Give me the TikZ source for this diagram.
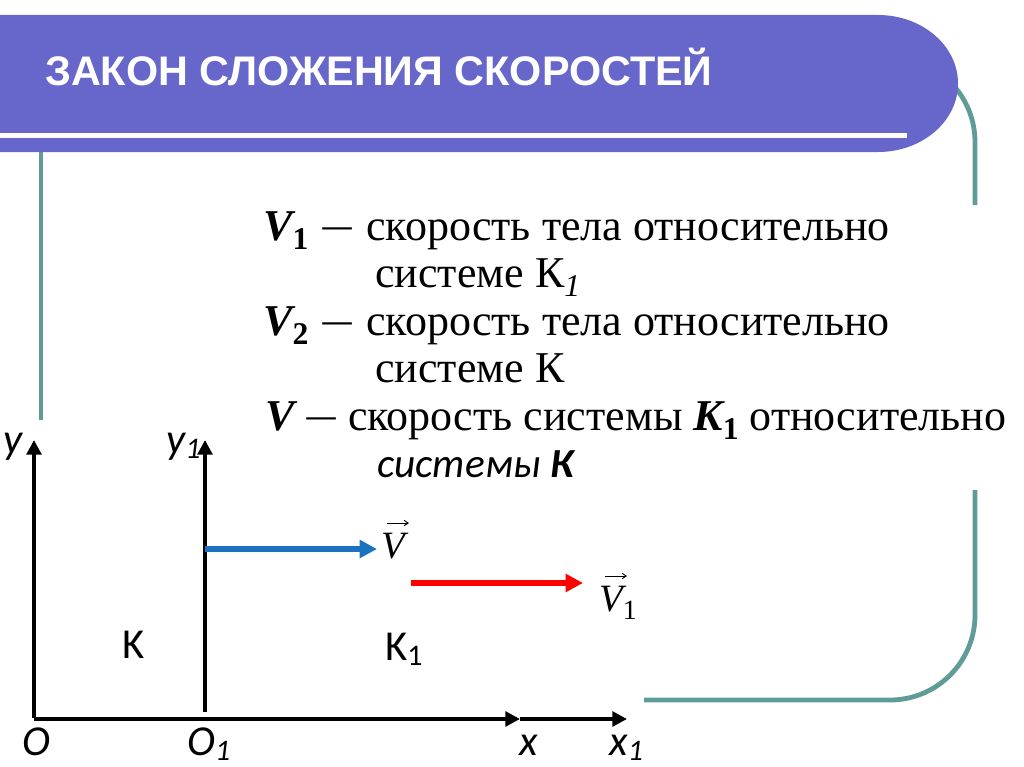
\documentclass[tikz,border=0pt]{standalone}
\usepackage{fontspec}
\usepackage{graphicx}
\setmainfont{Liberation Serif}
\newfontfamily\titlefont{Liberation Sans}
\newfontfamily\calfont{Carlito}
\usetikzlibrary{arrows.meta}
\definecolor{barcol}{HTML}{6767CB}
\definecolor{framecol}{HTML}{5F9B97}
\definecolor{bluevec}{HTML}{1B72BE}
\definecolor{redvec}{HTML}{FF0000}
\newcommand\mysub[1]{\raisebox{-0.22em}{\scalebox{0.72}{#1}}}
\newcommand\labsub[1]{\raisebox{-0.14em}{\scalebox{0.7}{#1}}}
\newcommand\dsh{\hspace{0.25em}\raisebox{-0.08em}{\scalebox{1.45}[1]{−}}\hspace{0.25em}}
\newcommand\dshb{\hspace{0.2em}\raisebox{-0.08em}{\scalebox{1.45}[1]{−}}\hspace{0.2em}}
\begin{document}
\begin{tikzpicture}[x=0.75pt,y=-0.75pt,
  frame/.style={draw=framecol,line width=3.6pt},
  axis/.style={line width=3pt,-{Triangle[length=11pt,width=11pt]}},
  vecarrow/.style={line width=4.2pt,-{Triangle[length=13pt,width=13pt]}},
  overarrow/.style={line width=0.7pt,-{Straight Barb[length=3pt,width=4pt]}},
  body/.style={anchor=base west,inner sep=0pt,font=\fontsize{33}{38}\selectfont},
  veclab/.style={anchor=base west,inner sep=0pt,font=\itshape\fontsize{29}{33}\selectfont},
  lab/.style={anchor=base west,inner sep=0pt,font=\calfont\fontsize{32}{36}\selectfont}]
\useasboundingbox (0,0) rectangle (1024,767);
% frame
\draw[frame] (890,57) arc[start angle=-90,end angle=0,radius=85] -- (975,205);
\draw[frame] (975,490) -- (975,615) arc[start angle=0,end angle=90,radius=85] -- (644,700);
\draw[frame] (41,140) -- (41,420);
% title bar
\fill[barcol] (0,15) -- (878,15) arc[start angle=-90,end angle=90,x radius=80,y radius=68.5] -- (0,152) -- cycle;
\fill[white] (0,133) rectangle (907,137.5);
\node[anchor=base west,inner sep=0pt,text=white,font=\titlefont\bfseries\fontsize{31}{36}\selectfont] (title) at (45,85) {ЗАКОН СЛОЖЕНИЯ СКОРОСТЕЙ};
% text
\node[body] (l1) at (263,240) {{\bfseries\itshape V}\mysub{\bfseries 1}\dsh скорость тела относительно};
\node[body] (l2) at (375,287) {системе К\mysub{\itshape 1}};
\node[body] (l3) at (263,335) {{\bfseries\itshape V}\mysub{\bfseries 2}\dsh скорость тела относительно};
\node[body] (l4) at (375,382) {системе К};
\node[body] (l5) at (265,430) {{\bfseries\itshape V}\dshb скорость системы {\bfseries\itshape K}\mysub{\bfseries 1} относительно};
\node[body,font=\calfont\itshape\fontsize{31}{36}\selectfont] (l6) at (377,477) {системы {\bfseries К}};
% axes
\coordinate (O) at (34,719);
\coordinate (yb) at (34,718);
\coordinate (ytip) at (34,440);
\coordinate (y1b) at (205,712);
\coordinate (y1tip) at (205,440);
\coordinate (xtip) at (520,719);
\coordinate (x1tip) at (627,719);
\draw[axis] (yb) -- (ytip);
\draw[axis] (y1b) -- (y1tip);
\draw[axis] (O) -- (xtip);
\draw[axis] (xtip) -- (x1tip);
% vectors
\coordinate (bv0) at (205,549);
\coordinate (bv1) at (377,549);
\coordinate (rv0) at (411,583);
\coordinate (rv1) at (583,583);
\draw[bluevec,vecarrow] (bv0) -- (bv1);
\draw[redvec,vecarrow] (rv0) -- (rv1);
% labels
\node[lab] (ly) at (3,453) {\itshape y};
\node[lab] (ly1) at (166,453) {\itshape y\labsub{1}};
\node[lab] (lO) at (22,755) {\itshape O};
\node[lab] (lO1) at (187,755) {\itshape O\labsub{1}};
\node[lab] (lx) at (519,755) {\itshape x};
\node[lab] (lx1) at (609,755) {\itshape x\labsub{1}};
\node[lab] (lK) at (122,658) {K};
\node[lab] (lK1) at (385,660) {K\labsub{1}};
\node[veclab] (lV) at (381,558) {V};
\node[veclab] (lV1) at (599,611) {V\mysub{\upshape 1}};
\coordinate (aV0) at (387,523);
\coordinate (aV1) at (409,523);
\coordinate (aW0) at (605,576);
\coordinate (aW1) at (627,576);
\draw[overarrow] (aV0) -- (aV1);
\draw[overarrow] (aW0) -- (aW1);
\end{tikzpicture}
\end{document}
